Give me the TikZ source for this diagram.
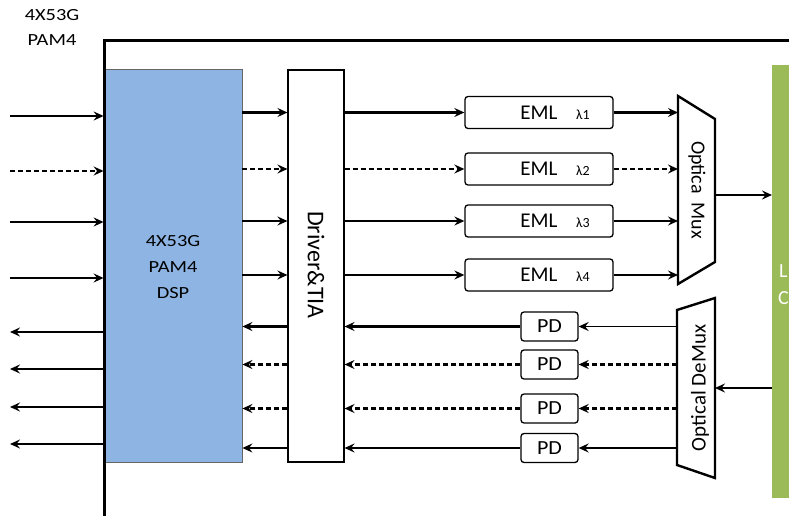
\documentclass[tikz,border=0pt]{standalone}
\usepackage{fontspec}
\setmainfont{Carlito}
\usetikzlibrary{arrows.meta}
\newcommand{\sxt}[2]{\scalebox{#1}[1]{#2}}
\definecolor{dspblue}{HTML}{8DB4E2}
\definecolor{lcgreen}{HTML}{9BBB59}
\begin{document}
\begin{tikzpicture}[x=1pt,y=-1pt,
  thinln/.style={line width=1.4pt},
  thickln/.style={line width=2.8pt},
  dashln/.style={line width=2.4pt,dash pattern=on 5pt off 3pt},
  arr/.style={-{Stealth[length=10pt,width=9pt,inset=3.5pt]}},
  frame/.style={line width=3pt},
  dspbox/.style={draw=black!60,line width=0.8pt,fill=dspblue,minimum width=138pt,minimum height=393pt,inner sep=0pt},
  drvbox/.style={draw=black,line width=1.1pt,fill=white,minimum width=56pt,minimum height=392pt,inner sep=0pt},
  emlbox/.style={draw=black,line width=1.3pt,rounded corners=3pt,minimum width=148pt,minimum height=32pt,inner sep=0pt},
  pdbox/.style={draw=black,line width=1.3pt,rounded corners=3pt,minimum width=57pt,minimum height=29pt,inner sep=0pt},
  lbl/.style={font=\fontsize{17}{18}\selectfont,inner sep=0pt},
  emltxt/.style={font=\fontsize{21}{22}\selectfont,inner sep=0pt},
  lamtxt/.style={font=\fontsize{14}{15}\selectfont,inner sep=0pt},
  rottxt/.style={font=\fontsize{21}{22}\selectfont,inner sep=0pt}
]
\useasboundingbox (0,0) rectangle (789,516);

% top-left label
\node[lbl] (toplbl1) at (52,15) {\sxt{1.2}{4X53G}};
\node[lbl] (toplbl2) at (52,40) {\sxt{1.2}{PAM4}};

% green bar
\node[fill=lcgreen,minimum width=30pt,minimum height=433pt,inner sep=0pt,anchor=north west] (lc) at (772,65) {};
\node[font=\fontsize{20}{20}\selectfont,text=white,anchor=west,inner sep=0pt] (lcL) at (779,271) {L};
\node[font=\fontsize{20}{20}\selectfont,text=white,anchor=west,inner sep=0pt] (lcC) at (778,298) {C};

% DSP
\node[dspbox] (dsp) at (173,265.5) {};
\node[lbl] (dsp1) at (173,241) {\sxt{1.2}{4X53G}};
\node[lbl] (dsp2) at (173,267) {\sxt{1.2}{PAM4}};
\node[lbl] (dsp3) at (173,293) {\sxt{1.2}{DSP}};

% outer frame
\coordinate (fTR) at (795,41);
\coordinate (fTL) at (104,41);
\coordinate (fBL) at (104,520);
\draw[frame] (fTR) -- (fTL) -- (fBL);

% Driver
\node[drvbox] (drv) at (316,266) {};
\node[rottxt,rotate=-90,font=\fontsize{24}{24}\selectfont] (drvt) at (316,265) {Driver\&TIA};

% EMLs
\node[emlbox] (eml1) at (539,112.5) {};
\node[emlbox] (eml2) at (539,169) {};
\node[emlbox] (eml3) at (539,221) {};
\node[emlbox] (eml4) at (539,275) {};
\foreach \i/\l in {1/1,2/2,3/3,4/4}{
  \node[emltxt] (emlt\i) at ([xshift=0pt]eml\i.center) {EML};
  \node[lamtxt] (laml\i) at ([xshift=44pt,yshift=-2pt]eml\i.center) {λ\l};
}

% PDs
\node[pdbox] (pd1) at (549.5,326.5) {};
\node[pdbox] (pd2) at (549.5,364.5) {};
\node[pdbox] (pd3) at (549.5,408.5) {};
\node[pdbox] (pd4) at (549.5,448) {};
\foreach \i in {1,2,3,4}{
  \node[font=\fontsize{20}{20}\selectfont,inner sep=0pt] (pdt\i) at (pd\i.center) {\sxt{1.1}{PD}};
}

% Optical Mux
\coordinate (mA) at (678,96);
\coordinate (mB) at (715,119);
\coordinate (mC) at (715,262);
\coordinate (mD) at (678,284);
\draw[line width=2.4pt,fill=white] (mA) -- (mB) -- (mC) -- (mD) -- cycle;
\node[rottxt,rotate=-90,font=\fontsize{20}{20}\selectfont] (muxt) at (697,190) {Optica\ \ Mux};
\coordinate (muxout) at (715,195);

% Optical DeMux
\coordinate (dA) at (677,310);
\coordinate (dB) at (715,298);
\coordinate (dC) at (715,478);
\coordinate (dD) at (677,465);
\draw[line width=2.4pt,fill=white] (dA) -- (dB) -- (dC) -- (dD) -- cycle;
\node[rottxt,rotate=90] (dmuxt) at (700,388) {Optical DeMux};
\coordinate (dmuxin) at (715,388);

% left inputs
\coordinate (i1) at (10,116);
\coordinate (i2) at (10,171);
\coordinate (i3) at (10,222);
\coordinate (i4) at (10,278);
\draw[thinln,arr] (i1) -- (i1 -| dsp.west);
\draw[dashln,arr] (i2) -- (i2 -| dsp.west);
\draw[thinln,arr] (i3) -- (i3 -| dsp.west);
\draw[thickln,arr] (i4) -- (i4 -| dsp.west);

% left outputs
\coordinate (o1) at (10,332);
\coordinate (o2) at (10,369);
\coordinate (o3) at (10,407);
\coordinate (o4) at (10,444);
\foreach \i in {1,2,3,4}{
  \draw[thinln,arr] (o\i -| dsp.west) -- (o\i);
}

% DSP -> Driver, Driver -> EML
\draw[thickln,arr] (dsp.east |- eml1) -- (drv.west |- eml1);
\draw[dashln,arr] (dsp.east |- eml2) -- (drv.west |- eml2);
\draw[thinln,arr] (dsp.east |- eml3) -- (drv.west |- eml3);
\draw[thinln,arr] (dsp.east |- eml4) -- (drv.west |- eml4);
\draw[thickln,arr] (drv.east |- eml1) -- (eml1.west);
\draw[dashln,arr] (drv.east |- eml2) -- (eml2.west);
\draw[thinln,arr] (drv.east |- eml3) -- (eml3.west);
\draw[thinln,arr] (drv.east |- eml4) -- (eml4.west);

% EML -> Mux
\draw[thickln,arr] (eml1.east) -- (eml1 -| mA);
\draw[dashln,arr] (eml2.east) -- (eml2 -| mA);
\draw[thinln,arr] (eml3.east) -- (eml3 -| mA);
\draw[thinln,arr] (eml4.east) -- (eml4 -| mA);

% Mux -> LC, LC -> DeMux
\draw[thickln,arr] (muxout) -- (muxout -| lc.west);
\draw[thinln,arr] (dmuxin -| lc.west) -- (dmuxin);

% DeMux -> PD
\draw[thinln,arr] (pd1 -| dA) -- (pd1.east);
\draw[dashln,arr] (pd2 -| dA) -- (pd2.east);
\draw[dashln,arr] (pd3 -| dA) -- (pd3.east);
\draw[thinln,arr] (pd4 -| dA) -- (pd4.east);

% PD -> Driver, Driver -> DSP
\draw[thickln,arr] (pd1.west) -- (pd1 -| drv.east);
\draw[dashln,arr] (pd2.west) -- (pd2 -| drv.east);
\draw[dashln,arr] (pd3.west) -- (pd3 -| drv.east);
\draw[thinln,arr] (pd4.west) -- (pd4 -| drv.east);
\draw[thickln,arr] (drv.west |- pd1) -- (dsp.east |- pd1);
\draw[dashln,arr] (drv.west |- pd2) -- (dsp.east |- pd2);
\draw[dashln,arr] (drv.west |- pd3) -- (dsp.east |- pd3);
\draw[thinln,arr] (drv.west |- pd4) -- (dsp.east |- pd4);
\end{tikzpicture}
\end{document}
